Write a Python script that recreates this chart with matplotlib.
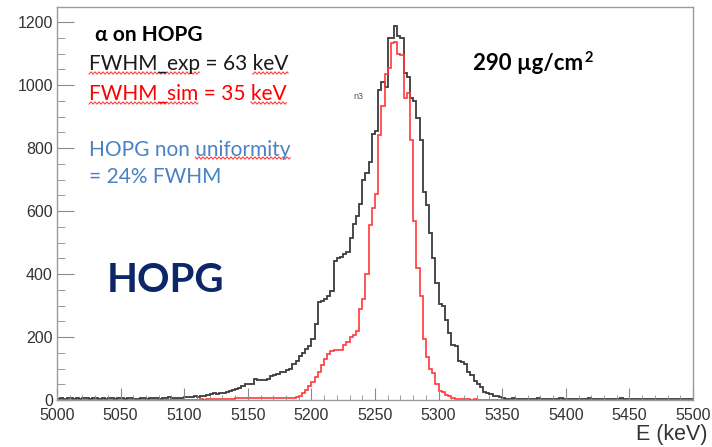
# Alpha spectrum on HOPG: measured vs simulated energy histograms
import numpy as np
import matplotlib.pyplot as plt
from matplotlib.lines import Line2D
from matplotlib.ticker import MultipleLocator

# Histogram binning: 200 bins of 2.5 keV between 5000 and 5500 keV
e_min, e_max, n_bins = 5000, 5500, 200

exp_counts = [
    4, 6, 3, 5, 7, 4, 5, 3, 6, 5, 4, 7, 5, 3, 6, 4, 5, 6, 3, 5,
    6, 4, 5, 7, 4, 3, 6, 5, 4, 6, 5, 7, 4, 6, 5, 8, 6, 5, 7, 6,
    9, 11, 8, 12, 10, 13, 12, 15, 19, 21, 20, 23, 22, 24, 30, 32, 35, 38, 46, 50,
    52, 52, 68, 65, 62, 64, 66, 77, 80, 82, 88, 90, 95, 100, 115, 125, 140, 150, 163, 172,
    195, 240, 310, 315, 320, 330, 345, 440, 450, 455, 465, 470, 514, 560, 585, 622,
    700, 720, 755, 845, 855, 985, 1010, 993, 1148, 1150, 1188, 1155, 1150, 1040,
    1025, 960, 950, 895, 825, 660, 620, 530, 450, 370, 305, 300, 255, 212,
    175, 170, 125, 122, 115, 88, 78, 60, 52, 40, 25, 22, 20, 14, 12, 10, 5, 4, 3, 5,
    3, 2, 4, 3, 2, 4, 3, 5, 2, 3, 4, 2, 3, 3, 5, 2, 4, 3, 2, 3,
    4, 3, 2, 5, 3, 2, 4, 3, 3, 2, 4, 2, 3, 5, 3, 2, 3, 4, 2, 3,
    3, 4, 2, 3, 2, 4, 3, 2, 3, 4, 2, 3, 3, 2, 4, 3,
]

# Simulated spectrum (counts per bin)
sim_counts = [
    0, 1, 0, 0, 1, 0, 0, 0, 1, 0, 0, 0, 1, 0, 0, 1, 0, 0, 0, 1,
    0, 0, 1, 0, 1, 0, 0, 1, 0, 0, 1, 0, 0, 1, 0, 1, 0, 1, 1, 0,
    1, 1, 0, 1, 1, 2, 1, 2,
    2, 2, 3, 3, 3, 4, 4, 4, 5, 5, 5, 6, 5, 6, 6, 5, 6, 6, 6, 5,
    6, 6, 6, 7, 6, 7, 7, 8, 14, 22, 32, 44,
    58, 72, 90, 110, 130, 145, 155, 158, 160, 160, 175, 185, 200, 205, 220, 290,
    320, 400, 555, 610, 655, 840, 935, 1035, 1055, 1133, 1137, 1100, 1095, 960,
    975, 825, 570, 420, 330, 195, 135, 100, 85, 50, 28, 25, 16, 12,
    5, 4, 4, 3, 2, 2, 1, 2, 1, 1, 0, 1, 1, 0, 1, 0, 0, 1, 0, 1,
    0, 0, 1, 0, 0, 1, 0, 0, 0, 1, 0, 1, 0, 0, 0, 1, 0, 0, 1, 0,
    0, 1, 0, 0, 0, 0, 1, 0, 0, 1, 0, 0, 0, 1, 0, 0, 1, 0, 0, 0,
    1, 0, 0, 0, 1, 0, 0, 1, 0, 0, 0, 1, 0, 0, 1, 0,
]

x_ticks = list(range(5000, 5501, 50))
y_ticks = list(range(0, 1201, 200))

W, H = 712, 447
fig = plt.figure(figsize=(W / 100, H / 100), dpi=100)
ax = fig.add_axes([57 / W, 47 / H, 636 / W, 393 / H])

edges = np.linspace(e_min, e_max, n_bins + 1)
ax.stairs(exp_counts, edges, color="#3c3c3c", lw=1.3)
ax.stairs(sim_counts, edges, color="#ff3838", lw=1.2)

ax.set_xlim(e_min, e_max)
ax.set_ylim(0, 1248)
ax.set_xticks(x_ticks)
ax.set_yticks(y_ticks)
ax.xaxis.set_minor_locator(MultipleLocator(10))
ax.yaxis.set_minor_locator(MultipleLocator(50))
ax.tick_params(which="both", direction="in", color="#8a8a8a",
               labelcolor="#333333", labelsize=11.5)
ax.tick_params(axis="x", which="major", length=8.3, pad=5.5)
ax.tick_params(axis="x", which="minor", length=3.6)
ax.tick_params(axis="y", which="major", length=12, pad=3)
ax.tick_params(axis="y", which="minor", length=6)
for lab in ax.get_xticklabels() + ax.get_yticklabels():
    lab.set_family("Liberation Sans")
for sp in ax.spines.values():
    sp.set_color("#9a9a9a")
    sp.set_linewidth(1.0)

renderer = fig.canvas.get_renderer()


def px(x, y):
    return x / W, 1 - y / H


def width_px(s, **kw):
    t = fig.text(0, 0, s, **kw)
    w = t.get_window_extent(renderer).width
    t.remove()
    return w


def squiggle(x0, x1, y):
    xs = np.arange(x0, x1, 0.5)
    ys = y + 1.1 * np.sin(xs * 2 * np.pi / 4.0)
    fig.add_artist(Line2D(xs / W, 1 - ys / H, color="#ff3030", lw=0.7))


txt = ["Lato", "DejaVu Sans"]
reg = dict(family=txt, fontsize=15)
bold = dict(family=txt, fontsize=15, weight="bold")
big_bold = dict(family=txt, fontsize=16, weight="bold")
blue = "#4a82c4"

fig.text(*px(95, 41), "\u03b1 on HOPG", color="black", va="baseline", **bold)

line1 = "FWHM_exp = 63 keV"
line2 = "FWHM_sim = 35 keV"
fig.text(*px(89, 70), line1, color="#1a1a1a", va="baseline", **reg)
fig.text(*px(89, 100), line2, color="#ff0000", va="baseline", **reg)
fig.text(*px(89, 156), "HOPG non uniformity", color=blue, va="baseline", **reg)
fig.text(*px(89, 183), "= 24% FWHM", color=blue, va="baseline", **reg)

# spell-check style underlines, placed from the measured text widths
for s, yb in [(line1, 73), (line2, 103)]:
    squiggle(89, 89 + width_px(s[:8], **reg), yb)
    squiggle(89 + width_px(s[:-3], **reg), 89 + width_px(s, **reg), yb)
squiggle(89 + width_px("HOPG non ", **reg),
         89 + width_px("HOPG non uniformity", **reg), 158)

fig.text(*px(107, 292), "HOPG", family=txt, weight="bold", fontsize=29,
         color="#0c2668", va="baseline")

areal = "290 \u00b5g/cm"
fig.text(*px(473, 70), areal, color="black", va="baseline", **big_bold)
fig.text(*px(473 + width_px(areal, **big_bold) + 1, 62), "2", family=txt,
         fontsize=10.5, weight="bold", color="black", va="baseline")

fig.text(*px(353, 99), "n3", family="Liberation Sans", fontsize=6.5,
         color="#555555", va="baseline")
fig.text(*px(707, 440), "E (keV)", family="Liberation Sans", fontsize=15.5,
         color="#333333", va="baseline", ha="right")

fig.savefig("out.png", dpi=100)
